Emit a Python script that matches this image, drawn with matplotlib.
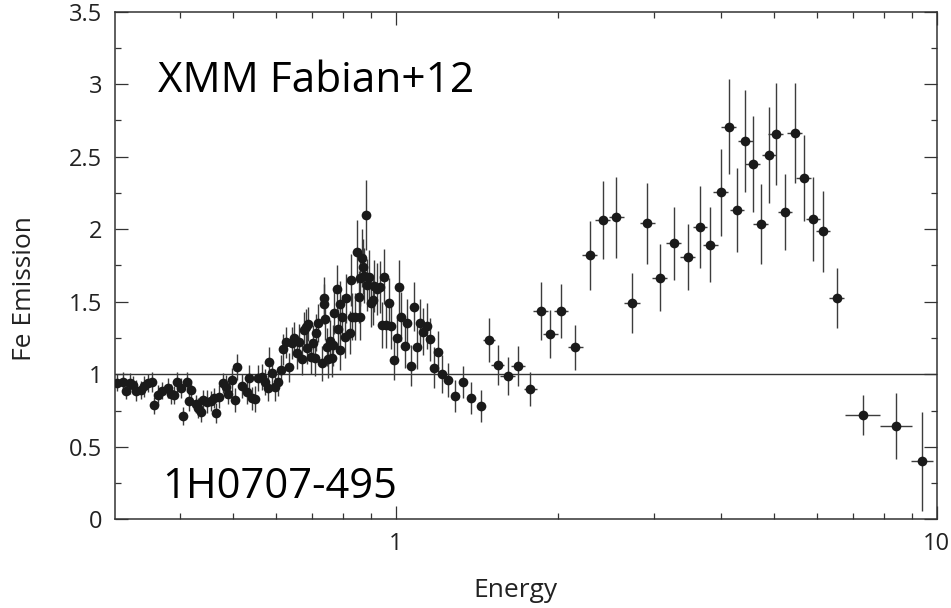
import matplotlib.pyplot as plt
from matplotlib.ticker import MultipleLocator, FixedLocator, NullFormatter, FuncFormatter

plt.rcParams['font.family'] = ['Open Sans', 'DejaVu Sans']

# Fe line emission ratio vs energy (keV), densely binned soft band
soft_energy = [
    0.306, 0.313, 0.317, 0.323, 0.327, 0.332, 0.338, 0.343, 0.348, 0.354,
    0.357, 0.364, 0.370, 0.379, 0.384, 0.390, 0.395, 0.401, 0.405, 0.411,
    0.416, 0.419, 0.427, 0.432, 0.437, 0.441, 0.449, 0.456, 0.462, 0.466,
    0.472, 0.479, 0.486, 0.490, 0.498, 0.505, 0.510, 0.521, 0.531, 0.536,
    0.544, 0.551, 0.557, 0.566, 0.574, 0.580, 0.584, 0.590, 0.599, 0.606,
    0.614, 0.619, 0.628, 0.635, 0.643, 0.650, 0.658, 0.663, 0.671, 0.676,
    0.682, 0.685, 0.690, 0.698, 0.705, 0.710, 0.712, 0.720, 0.730, 0.736,
    0.739, 0.741, 0.746, 0.749, 0.757, 0.764, 0.765, 0.769, 0.778, 0.782,
    0.789, 0.790, 0.796, 0.808, 0.811, 0.823, 0.828, 0.832, 0.843, 0.849,
    0.855, 0.859, 0.861, 0.868, 0.871, 0.874, 0.881, 0.884, 0.893, 0.899,
    0.909, 0.912, 0.925, 0.935, 0.945, 0.951, 0.962, 0.972, 0.982, 0.993,
    1.007, 1.017, 1.024, 1.039, 1.051, 1.066, 1.083, 1.097, 1.110, 1.124,
    1.144, 1.156, 1.177, 1.196, 1.220, 1.252, 1.287, 1.332, 1.378, 1.436,
]
soft_ratio = [
    0.942, 0.949, 0.888, 0.937, 0.926, 0.888, 0.892, 0.916, 0.940, 0.949,
    0.785, 0.857, 0.888, 0.906, 0.864, 0.857, 0.949, 0.903, 0.712, 0.949,
    0.819, 0.892, 0.795, 0.766, 0.742, 0.823, 0.811, 0.818, 0.837, 0.735,
    0.846, 0.938, 0.914, 0.864, 0.961, 0.823, 1.050, 0.919, 0.878, 0.974,
    0.833, 0.830, 0.974, 0.983, 0.949, 0.903, 1.087, 1.007, 0.914, 0.949,
    1.030, 1.171, 1.219, 1.050, 1.218, 1.248, 1.145, 1.225, 1.103, 1.306,
    1.328, 1.179, 1.347, 1.121, 1.218, 1.110, 1.287, 1.352, 1.076, 1.524,
    1.485, 1.379, 1.190, 1.103, 1.232, 1.110, 1.200, 1.425, 1.586, 1.310,
    1.485, 1.168, 1.397, 1.259, 1.524, 1.287, 1.650, 1.397, 1.397, 1.846,
    1.535, 1.397, 1.662, 1.800, 1.742, 1.678, 2.099, 1.616, 1.669, 1.494,
    1.512, 1.609, 1.586, 1.600, 1.340, 1.673, 1.340, 1.494, 1.333, 1.099,
    1.248, 1.600, 1.397, 1.195, 1.352, 1.059, 1.466, 1.185, 1.356, 1.294,
    1.333, 1.241, 1.046, 1.156, 1.002, 0.961, 0.850, 0.947, 0.834, 0.781,
]
soft_err = [
    0.06, 0.07, 0.06, 0.07, 0.06, 0.07, 0.06, 0.07, 0.06, 0.07,
    0.06, 0.07, 0.06, 0.07, 0.07, 0.06, 0.07, 0.07, 0.06, 0.07,
    0.07, 0.07, 0.06, 0.07, 0.07, 0.07, 0.08, 0.07, 0.07, 0.07,
    0.08, 0.07, 0.08, 0.07, 0.08, 0.08, 0.09, 0.08, 0.08, 0.09,
    0.08, 0.09, 0.09, 0.09, 0.09, 0.09, 0.10, 0.09, 0.10, 0.10,
    0.10, 0.11, 0.11, 0.10, 0.11, 0.11, 0.11, 0.12, 0.11, 0.12,
    0.12, 0.11, 0.12, 0.12, 0.12, 0.12, 0.13, 0.13, 0.12, 0.15,
    0.14, 0.14, 0.13, 0.13, 0.14, 0.13, 0.14, 0.15, 0.17, 0.14,
    0.16, 0.14, 0.15, 0.15, 0.17, 0.15, 0.18, 0.16, 0.16, 0.22,
    0.18, 0.16, 0.19, 0.20, 0.19, 0.19, 0.24, 0.18, 0.19, 0.17,
    0.17, 0.18, 0.18, 0.18, 0.16, 0.19, 0.16, 0.17, 0.16, 0.14,
    0.16, 0.19, 0.17, 0.15, 0.17, 0.14, 0.17, 0.15, 0.16, 0.16,
    0.16, 0.15, 0.14, 0.14, 0.13, 0.12, 0.11, 0.11, 0.11, 0.11,
]

# wider bins above 1.45 keV
hard_energy = [
    1.488, 1.544, 1.612, 1.687, 1.775, 1.855, 1.933, 2.026, 2.150, 2.285,
    2.415, 2.561, 2.736, 2.922, 3.078, 3.268, 3.470, 3.656, 3.820, 3.988,
    4.132, 4.280, 4.430, 4.570, 4.735, 4.900, 5.050, 5.245, 5.466, 5.680,
    5.910, 6.166, 6.540, 7.320, 8.430, 9.410,
]
hard_ratio = [
    1.237, 1.062, 0.988, 1.059, 0.900, 1.434, 1.278, 1.437, 1.186, 1.820,
    2.064, 2.083, 1.490, 2.041, 1.666, 1.903, 1.809, 2.018, 1.894, 2.255,
    2.708, 2.133, 2.609, 2.450, 2.039, 2.510, 2.657, 2.121, 2.666, 2.354,
    2.071, 1.986, 1.524, 0.719, 0.641, 0.400,
]
hard_err = [
    0.152, 0.137, 0.130, 0.138, 0.117, 0.200, 0.167, 0.184, 0.156, 0.240,
    0.270, 0.278, 0.205, 0.278, 0.231, 0.253, 0.230, 0.283, 0.256, 0.300,
    0.330, 0.290, 0.350, 0.330, 0.276, 0.330, 0.350, 0.262, 0.345, 0.297,
    0.287, 0.280, 0.207, 0.138, 0.228, 0.342,
]
hard_bin = [
    0.04, 0.04, 0.05, 0.05, 0.05, 0.06, 0.06, 0.06, 0.07, 0.07,
    0.08, 0.08, 0.09, 0.09, 0.10, 0.10, 0.11, 0.11, 0.12, 0.12,
    0.13, 0.13, 0.14, 0.14, 0.15, 0.15, 0.16, 0.16, 0.17, 0.18,
    0.18, 0.19, 0.20, 0.54, 0.57, 0.43,
]

fig = plt.figure(figsize=(9.51, 6.08), dpi=100)
ax = fig.add_axes([0.1209, 0.1459, 0.8639, 0.8349])

dark = '#1a1a1a'
grey = '#333333'

ax.axhline(1, color=grey, lw=1.0, zorder=1)

style = dict(fmt='o', color=dark, markersize=7, markeredgewidth=0,
             ecolor='#3c3c3c', elinewidth=1.0, capsize=0, zorder=3)
ax.errorbar(soft_energy, soft_ratio, yerr=soft_err, **style)
ax.errorbar(hard_energy, hard_ratio, yerr=hard_err, xerr=hard_bin, **style)

ax.set_xscale('log')
ax.set_xlim(0.303, 10)
ax.set_ylim(0, 3.5)

ax.xaxis.set_major_locator(FixedLocator([1, 10]))
ax.xaxis.set_major_formatter(FuncFormatter(lambda v, p: '%g' % v))
ax.xaxis.set_minor_locator(FixedLocator([0.4, 0.5, 0.6, 0.7, 0.8, 0.9,
                                         2, 3, 4, 5, 6, 7, 8, 9]))
ax.xaxis.set_minor_formatter(NullFormatter())
ax.yaxis.set_major_locator(MultipleLocator(0.5))
ax.yaxis.set_minor_locator(MultipleLocator(0.25))
ax.yaxis.set_major_formatter(FuncFormatter(lambda v, p: '%g' % v))

ax.tick_params(which='both', direction='in', top=True, right=True,
               color=grey, width=0.9, labelsize=17, labelcolor='#222222')
ax.tick_params(which='major', length=9.3)
ax.tick_params(which='minor', length=4.5)
ax.tick_params(axis='y', pad=9)
ax.tick_params(axis='x', pad=9)

for s in ax.spines.values():
    s.set_color(grey)
    s.set_linewidth(1.1)

ax.set_xlabel('Energy', fontsize=19, color='#222222')
ax.set_ylabel('Fe Emission', fontsize=19, color='#222222')
ax.xaxis.set_label_coords(0.487, -0.115)
ax.yaxis.set_label_coords(-0.095, 0.454)

ax.text(0.0523, 0.8424, 'XMM Fabian+12', transform=ax.transAxes,
        fontsize=30.5, color='black', va='baseline', ha='left')
ax.text(0.0572, 0.0414, '1H0707-495', transform=ax.transAxes,
        fontsize=30, color='black', va='baseline', ha='left')

fig.savefig('out.png', dpi=100)
